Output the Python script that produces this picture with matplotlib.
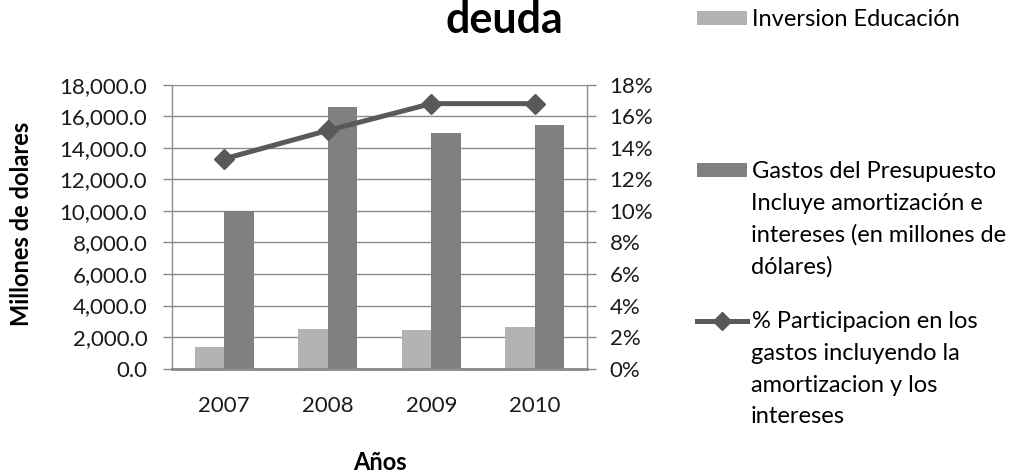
import matplotlib
matplotlib.use("Agg")
import matplotlib.pyplot as plt
from matplotlib.patches import Patch
from matplotlib.lines import Line2D
from matplotlib.ticker import FuncFormatter, MultipleLocator

#### Data ####

years = ["2007", "2008", "2009", "2010"]
inversion_educacion = [1350, 2500, 2480, 2620]        # millones de dolares
gastos_presupuesto = [10000, 16600, 14950, 15450]     # millones de dolares
participacion = [13.3, 15.1, 16.8, 16.8]              # %

legend_lines = [
    ["Inversion Educación"],
    ["Gastos del Presupuesto", "Incluye amortización e",
     "intereses (en millones de", "dólares)"],
    ["% Participacion en los", "gastos incluyendo la",
     "amortizacion y los", "intereses"],
]

#### Style ####

W, H = 1022, 475
light = "#b3b3b3"
dark = "#808080"
line_col = "#595959"
grid_col = "#8a8a8a"

plt.rcParams["font.family"] = ["Lato", "DejaVu Sans"]

fig = plt.figure(figsize=(W / 100, H / 100), dpi=100)
ax = fig.add_axes([172.3 / W, 1 - 368.7 / H, 414.4 / W, 284 / H])

x = list(range(len(years)))
w = 0.2857  # excel gap width 150%

ax.bar([i - w / 2 for i in x], inversion_educacion, w, color=light, zorder=2)
ax.bar([i + w / 2 for i in x], gastos_presupuesto, w, color=dark, zorder=2)

ax.set_xlim(-0.5, 3.5)
ax.set_ylim(0, 18000)
ax.yaxis.set_major_locator(MultipleLocator(2000))
ax.yaxis.set_major_formatter(FuncFormatter(lambda v, p: "{:,.1f}".format(v)))
ax.set_xticks(x)
ax.set_xticklabels(years)
ax.set_axisbelow(True)
ax.yaxis.grid(True, color=grid_col, lw=1)

ax.tick_params(axis="y", length=6.5, width=1, color=grid_col, pad=11.5,
               labelsize=16, labelcolor="#1a1a1a")
ax.tick_params(axis="x", length=0, pad=20, labelsize=16, labelcolor="#1a1a1a")

for s in ["top", "right"]:
    ax.spines[s].set_visible(False)
ax.spines["left"].set_color(grid_col)
ax.spines["left"].set_linewidth(1)
ax.spines["bottom"].set_color(grid_col)
ax.spines["bottom"].set_linewidth(2)

ax.set_ylabel("Millones de dolares", fontsize=17, fontweight="bold")
ax.yaxis.set_label_coords(-0.336, 0.509)
ax.set_xlabel("Años", fontsize=17, fontweight="bold")
ax.xaxis.set_label_coords(0.5, -0.29)

# percent line on secondary axis
ax2 = ax.twinx()
ax2.plot(x, participacion, color=line_col, lw=3.6, marker="D", ms=10,
         zorder=3)
ax2.set_ylim(0, 18)
ax2.yaxis.set_major_locator(MultipleLocator(2))
ax2.yaxis.set_major_formatter(FuncFormatter(lambda v, p: "{:.0f}%".format(v)))
ax2.tick_params(axis="y", length=6.5, width=1, color=grid_col, pad=10,
                labelsize=16, labelcolor="#1a1a1a")
for s in ["top", "left", "bottom"]:
    ax2.spines[s].set_visible(False)
ax2.spines["right"].set_color(grid_col)
ax2.spines["right"].set_linewidth(1)

# title (upper lines cut off in the original)
fig.text(504 / W, 1 - 33 / H, "deuda", ha="center", va="baseline",
         fontsize=31, fontweight="bold")

#### Legend ####

handles = [
    Patch(facecolor=light, edgecolor="none"),
    Patch(facecolor=dark, edgecolor="none"),
    Line2D([], [], color=line_col, lw=3.6, marker="D", ms=10),
]
first_y = [20, 172, 322]
step = 31.5

for h, lines, y0 in zip(handles, legend_lines, first_y):
    fig.legend(handles=[h], labels=[lines[0]], loc="center left",
               bbox_to_anchor=(697 / W, 1 - y0 / H), frameon=False,
               borderpad=0, borderaxespad=0, handlelength=2.1,
               handleheight=0.52, handletextpad=0.25, fontsize=17,
               markerscale=0.9)
    for k, txt in enumerate(lines[1:], start=1):
        fig.text(751 / W, 1 - (y0 + k * step) / H, txt, ha="left",
                 va="center", fontsize=17)

fig.savefig("out.png", dpi=100)
